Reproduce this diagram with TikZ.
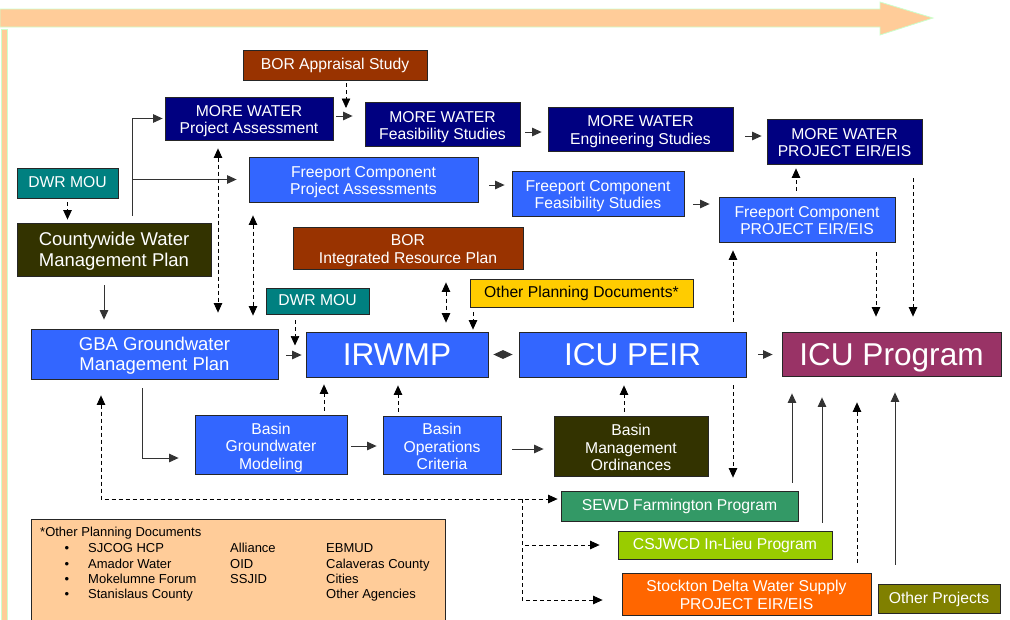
\documentclass[tikz,border=0pt]{standalone}
\usepackage{fontspec}
\setmainfont{Liberation Sans}
\usetikzlibrary{arrows.meta}

\definecolor{mwnavy}{HTML}{000080}
\definecolor{fpblue}{HTML}{3366FF}
\definecolor{rust}{HTML}{993300}
\definecolor{dwrteal}{HTML}{008080}
\definecolor{darkolive}{HTML}{333300}
\definecolor{gold}{HTML}{FFCC00}
\definecolor{plum}{HTML}{993366}
\definecolor{seagreen}{HTML}{339966}
\definecolor{limegreen}{HTML}{99CC00}
\definecolor{stockorange}{HTML}{FF6600}
\definecolor{olivebox}{HTML}{808000}
\definecolor{peach}{HTML}{FFCC99}
\definecolor{mint}{HTML}{CCFFCC}

\newcommand{\fstd}{\fontsize{15.7pt}{17.5pt}\selectfont}
\newcommand{\fbig}{\fontsize{18.5pt}{20.3pt}\selectfont}
\newcommand{\fhuge}{\fontsize{31.6pt}{36pt}\selectfont}
\newcommand{\flegend}{\fontsize{13pt}{15.3pt}\selectfont}

\begin{document}
\begin{tikzpicture}[x=1pt, y=-1pt, >={Triangle[length=9.5pt,width=8.5pt]},
    box/.style={draw=black!85, line width=0.8pt, text=white, align=center, inner sep=0pt, font=\fstd},
    lines1/.style={text height=13pt, text depth=3.5pt},
    lines2/.style={text height=33.5pt, text depth=3.5pt},
    lines3/.style={text height=53pt, text depth=3.5pt},
    bigtwo/.style={font=\fbig, text height=37pt, text depth=4pt},
    bigtitle/.style={font=\fhuge, text height=22.6pt, text depth=0pt},
    sz/.style 2 args={minimum width=#1pt, minimum height=#2pt},
    dsh/.style={draw=black, dash pattern=on 4pt off 3pt, line width=0.7pt},
    sld/.style={draw=black!80, line width=1pt},
    legtxt/.style={font=\flegend, inner sep=0pt}]

    \useasboundingbox (0,0) rectangle (1010,619);

    % time arrow and side bar
    \filldraw[fill=peach, draw=mint, line width=0.8pt] (0,9) -- (880,9) -- (880,2) -- (933,18) -- (880,35) -- (880,27) -- (0,27) -- cycle;
    \filldraw[fill=peach, draw=mint, line width=0.8pt] (1,29) rectangle (7,625);

    % MORE WATER row
    \node[box, lines1, sz={184}{30}, fill=rust] (bora) at (335,65) {BOR Appraisal Study};
    \node[box, lines2, sz={168}{43}, fill=mwnavy] (mwpa) at (249,118.5) {MORE WATER\\Project Assessment};
    \node[box, lines2, sz={155}{44}, fill=mwnavy] (mwfs) at (442.5,124.5) {MORE WATER\\Feasibility Studies};
    \node[box, lines2, sz={185}{44}, fill=mwnavy] (mwes) at (640.5,129) {MORE WATER\\Engineering Studies};
    \node[box, lines2, sz={155}{45}, fill=mwnavy] (mweir) at (844.5,141.5) {MORE WATER\\PROJECT EIR/EIS};

    % Freeport row
    \node[box, lines1, sz={101}{30}, fill=dwrteal] (dwra) at (67.5,183) {DWR MOU};
    \node[box, bigtwo, sz={194}{53}, fill=darkolive] (cwmp) at (114,249.5) {Countywide Water\\Management Plan};
    \node[box, lines2, sz={229}{45}, fill=fpblue] (fcpa) at (363.5,179.5) {Freeport Component\\Project Assessments};
    \node[box, lines2, sz={172}{45}, fill=fpblue] (fcfs) at (598,193.5) {Freeport Component\\Feasibility Studies};
    \node[box, lines2, sz={176}{45}, fill=fpblue] (fceir) at (807,219.5) {Freeport Component\\PROJECT EIR/EIS};
    \node[box, lines2, sz={230}{42}, fill=rust] (borirp) at (408,248) {BOR\\Integrated Resource Plan};
    \node[box, lines1, sz={103}{26}, fill=dwrteal] (dwrb) at (317.5,301) {DWR MOU};
    \node[box, lines1, sz={223}{28}, fill=gold, text=black] (opd) at (581.5,293) {Other Planning Documents*};

    % main row
    \node[box, bigtwo, sz={247}{50}, fill=fpblue] (gba) at (154.5,354) {GBA Groundwater\\Management Plan};
    \node[box, bigtitle, sz={182}{45}, fill=fpblue] (irwmp) at (397,354.5) {IRWMP};
    \node[box, bigtitle, sz={227}{45}, fill=fpblue] (icupeir) at (632.5,354.5) {ICU PEIR};
    \node[box, bigtitle, sz={219}{44}, fill=plum] (icuprog) at (891.5,354) {ICU Program};

    % basin row
    \node[box, lines3, sz={152}{59}, fill=fpblue] (bgm) at (271,444.5) {Basin\\Groundwater\\Modeling};
    \node[box, lines3, sz={118}{58}, fill=fpblue] (boc) at (442,445) {Basin\\Operations\\Criteria};
    \node[box, lines3, sz={154}{60}, fill=darkolive] (bmo) at (631,446) {Basin\\Management\\Ordinances};

    % projects
    \node[box, lines1, sz={237}{30}, fill=seagreen] (sewd) at (679.5,506) {SEWD Farmington Program};
    \node[box, lines1, sz={214}{28}, fill=limegreen] (csj) at (725,545) {CSJWCD In-Lieu Program};
    \node[box, lines2, sz={249}{42}, fill=stockorange] (sdws) at (746.5,594) {Stockton Delta Water Supply\\PROJECT EIR/EIS};
    \node[box, lines1, sz={122}{29}, fill=olivebox] (othp) at (939,598.5) {Other Projects};

    % legend
    \filldraw[fill=peach, draw=black!85, line width=0.8pt] (31,519) rectangle (445,625);
    \node[legtxt, anchor=base west] (leghead) at (40,536.6) {*Other Planning Documents};
    \foreach \txt [count=\i] in {SJCOG HCP, Amador Water, Mokelumne Forum, Stanislaus County} {
        \node[legtxt, anchor=base] (legb\i) at (67,537.4+15.3*\i) {\textbullet};
        \node[legtxt, anchor=base west] (lega\i) at (88,537.4+15.3*\i) {\txt};
    }
    \foreach \txt [count=\i] in {Alliance, OID, SSJID}
        \node[legtxt, anchor=base west] (legm\i) at (230,537.4+15.3*\i) {\txt};
    \foreach \txt [count=\i] in {EBMUD, Calaveras County, Cities, Other Agencies}
        \node[legtxt, anchor=base west] (legc\i) at (326,537.4+15.3*\i) {\txt};

    % connectors, upper part
    \coordinate (mwjoin) at (346,108);
    \draw[dsh,->,shorten <=4pt,shorten >=3pt] (dwra.south) -- (cwmp.north -| dwra.south);
    \draw[sld,->,shorten <=7pt,shorten >=2pt] (cwmp.north -| 132,0) |- (mwpa.west);
    \draw[sld,->,shorten >=12pt] (fcpa.west -| 132,0) -- (fcpa.west);
    \draw[sld,->,shorten <=9pt,shorten >=9pt] (cwmp.south -| 104,0) -- (gba.north -| 104,0);
    \draw[dsh,->,shorten <=3pt] (bora.south -| mwjoin) -- (mwjoin);
    \draw[sld,->,shorten <=3pt,shorten >=12pt] (mwpa.east |- 0,116) -- (mwfs.west |- 0,116);
    \draw[sld,->,shorten <=5pt,shorten >=6pt] (mwfs.east |- 0,132) -- (mwes.west |- 0,132);
    \draw[sld,->,shorten <=12pt,shorten >=5pt] (mwes.east |- 0,136) -- (mweir.west |- 0,136);
    \draw[sld,->,shorten <=11pt,shorten >=7pt] (fcpa.east |- 0,185) -- (fcfs.west |- 0,185);
    \draw[sld,->,shorten <=9pt,shorten >=9pt] (fcfs.east |- 0,204) -- (fceir.west |- 0,204);
    \draw[dsh,->,shorten <=6pt,shorten >=4pt] (fceir.north -| 796,0) -- (mweir.south -| 796,0);
    \draw[dsh,->,shorten <=14pt,shorten >=15pt] (mweir.south -| 913,0) -- (icuprog.north -| 913,0);
    \draw[dsh,->,shorten <=10pt,shorten >=15pt] (fceir.south -| 876,0) -- (icuprog.north -| 876,0);
    \draw[dsh,->,shorten <=10pt,shorten >=8pt] (icupeir.north -| 733,0) -- (fceir.south -| 733,0);
    \draw[dsh,->,shorten <=8pt,shorten >=13pt] (icupeir.south -| 733,0) -- (sewd.north -| 733,0);

    % connectors, middle
    \draw[dsh,<->,shorten <=8pt,shorten >=16pt] (mwpa.south -| 218,0) -- (gba.north -| 218,0);
    \draw[dsh,<->,shorten <=13pt,shorten >=13pt] (fcpa.south -| 253,0) -- (gba.north -| 253,0);
    \draw[dsh,<->,shorten <=13pt,shorten >=9pt] (borirp.south -| 446,0) -- (irwmp.north -| 446,0);
    \draw[dsh,->,shorten <=5pt,shorten >=2pt] (opd.south -| 473,0) -- (irwmp.north -| 473,0);
    \draw[dsh,->,shorten <=6pt,shorten >=9pt] (dwrb.south -| 295,0) -- (irwmp.west -| 295,0);
    \draw[sld,->,shorten <=8pt,shorten >=4pt] (gba.east |- 0,355) -- (irwmp.west |- 0,355);
    \draw[sld,<->,shorten <=5pt,shorten >=6pt] (irwmp.east) -- (icupeir.west);
    \draw[sld,->,shorten <=12pt,shorten >=9pt] (icupeir.east) -- (icuprog.west |- icupeir.east);

    % connectors, lower part
    \draw[dsh,->,shorten <=4pt,shorten >=7pt] (bgm.north -| 324,0) -- (irwmp.south -| 324,0);
    \draw[dsh,->,shorten <=4pt,shorten >=8pt] (boc.north -| 398,0) -- (irwmp.south -| 398,0);
    \draw[dsh,->,shorten <=4pt,shorten >=8pt] (bmo.north -| 624,0) -- (icupeir.south -| 624,0);
    \draw[sld,->,shorten <=9pt,shorten >=16pt] (gba.south -| 142,0) |- (bgm.west |- 0,458);
    \draw[sld,->,shorten <=4pt,shorten >=6pt] (bgm.east |- 0,446) -- (boc.west |- 0,446);
    \draw[sld,->,shorten <=11pt,shorten >=10pt] (boc.east |- 0,449) -- (bmo.west |- 0,449);

    \coordinate (split) at (522,499);
    \draw[dsh,<->,shorten <=16pt,shorten >=3pt] (gba.south -| 101,0) |- (sewd.west |- 0,499);
    \draw[dsh,->,shorten >=18pt] (split) |- (csj.west);
    \draw[dsh,->,shorten >=19pt] (split) |- (sdws.west |- 0,600);

    \draw[sld,->,shorten <=8pt,shorten >=17pt] (sewd.north -| 792,0) -- (icuprog.south -| 792,0);
    \draw[sld,->,shorten <=8pt,shorten >=21pt] (csj.north -| 822,0) -- (icuprog.south -| 822,0);
    \draw[dsh,->,shorten <=10pt,shorten >=26pt] (sdws.north -| 857,0) -- (icuprog.south -| 857,0);
    \draw[sld,->,shorten <=19pt,shorten >=16pt] (othp.north -| 895,0) -- (icuprog.south -| 895,0);

\end{tikzpicture}
\end{document}
